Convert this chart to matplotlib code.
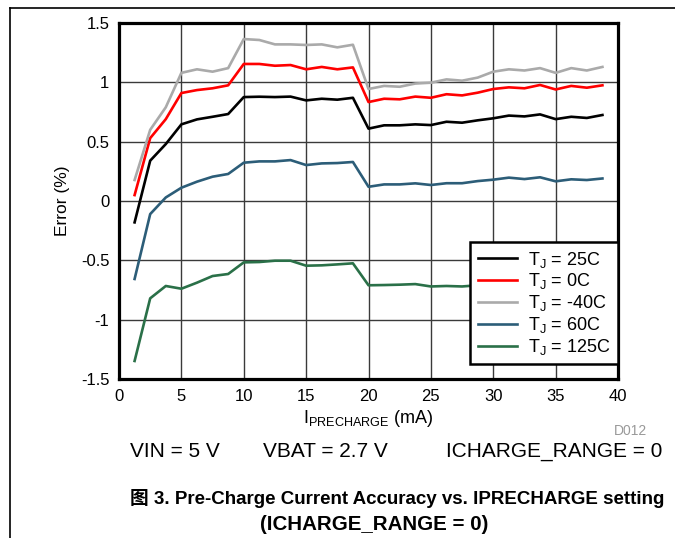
import matplotlib
matplotlib.use('Agg')
import matplotlib.pyplot as plt
from matplotlib.lines import Line2D

plt.rcParams['font.family'] = ['Liberation Sans', 'Noto Sans CJK SC', 'DejaVu Sans']
plt.rcParams['mathtext.fontset'] = 'custom'
plt.rcParams['mathtext.rm'] = 'Liberation Sans'

# precharge current setpoints (mA)
i_pre = [1.25, 2.5, 3.75, 5, 6.25, 7.5, 8.75, 10, 11.25, 12.5, 13.75, 15, 16.25, 17.5, 18.75,
         20, 21.25, 22.5, 23.75, 25, 26.25, 27.5, 28.75, 30, 31.25, 32.5, 33.75, 35, 36.25, 37.5, 38.75]

err_25 = [-0.18, 0.34, 0.48, 0.646, 0.688, 0.71, 0.733, 0.876, 0.879, 0.876, 0.88, 0.848, 0.862, 0.854, 0.87,
          0.61, 0.638, 0.638, 0.646, 0.64, 0.668, 0.66, 0.68, 0.697, 0.72, 0.713, 0.73, 0.69, 0.71, 0.70, 0.725]
err_0 = [0.05, 0.53, 0.69, 0.91, 0.935, 0.95, 0.975, 1.155, 1.155, 1.14, 1.146, 1.11, 1.13, 1.11, 1.126,
         0.834, 0.862, 0.857, 0.88, 0.87, 0.90, 0.89, 0.913, 0.944, 0.958, 0.95, 0.978, 0.94, 0.97, 0.955, 0.975]
err_m40 = [0.177, 0.60, 0.79, 1.08, 1.11, 1.09, 1.12, 1.365, 1.357, 1.32, 1.32, 1.315, 1.32, 1.295, 1.317,
           0.944, 0.97, 0.963, 0.99, 0.997, 1.025, 1.014, 1.04, 1.09, 1.11, 1.10, 1.12, 1.08, 1.12, 1.10, 1.13]
err_60 = [-0.657, -0.11, 0.03, 0.112, 0.163, 0.205, 0.228, 0.323, 0.334, 0.334, 0.345, 0.303, 0.317, 0.32, 0.329,
          0.12, 0.14, 0.14, 0.149, 0.135, 0.15, 0.15, 0.168, 0.18, 0.197, 0.185, 0.2, 0.166, 0.183, 0.177, 0.19]
err_125 = [-1.348, -0.82, -0.716, -0.739, -0.688, -0.632, -0.615, -0.517, -0.514, -0.503, -0.503, -0.545, -0.542, -0.534, -0.525,
           -0.71, -0.708, -0.705, -0.70, -0.72, -0.716, -0.72, -0.71, -0.70, -0.69, -0.70, -0.69, -0.71, -0.70, -0.70, -0.69]

series = [
    (err_25, 'black', r'T$_\mathregular{J}$ = 25C'),
    (err_0, '#ff0000', r'T$_\mathregular{J}$ = 0C'),
    (err_m40, '#aaaaaa', r'T$_\mathregular{J}$ = -40C'),
    (err_60, '#2c5d78', r'T$_\mathregular{J}$ = 60C'),
    (err_125, '#2a7048', r'T$_\mathregular{J}$ = 125C'),
]

fig = plt.figure(figsize=(6.75, 5.38), dpi=100)
ax = fig.add_axes([0.1763, 0.2955, 0.7393, 0.6617])

for vals, col, lab in series:
    ax.plot(i_pre, vals, color=col, lw=1.9, label=lab)

ax.set_xlim(0, 40)
ax.set_ylim(-1.5, 1.5)
ax.set_xticks(range(0, 41, 5))
ax.set_yticks([-1.5, -1, -0.5, 0, 0.5, 1, 1.5])
ax.set_yticklabels(['-1.5', '-1', '-0.5', '0', '0.5', '1', '1.5'])
ax.grid(True, color='#3a3a3a', lw=1.0)
ax.set_axisbelow(True)
ax.tick_params(length=0, labelsize=12, pad=7)
for s in ax.spines.values():
    s.set_linewidth(2.3)
ax.set_ylabel('Error (%)', fontsize=12.5, labelpad=8)
ax.set_xlabel(r'I$_\mathregular{PRECHARGE}$ (mA)', fontsize=13, labelpad=3)

leg = ax.legend(loc='lower right', bbox_to_anchor=(1.0, 0.042), fontsize=13, frameon=True,
                fancybox=False, edgecolor='black', framealpha=1, borderaxespad=0,
                handlelength=2.2, labelspacing=0.1, borderpad=0.4, handletextpad=0.6)
leg.get_frame().set_linewidth(1.8)

fig.text(0.958, 0.199, 'D012', fontsize=10, color='#999999', ha='right', va='center')
fig.text(0.193, 0.16, 'VIN = 5 V', fontsize=15, va='center')
fig.text(0.39, 0.16, 'VBAT = 2.7 V', fontsize=15, va='center')
fig.text(0.66, 0.16, 'ICHARGE_RANGE = 0', fontsize=15, va='center')
fig.text(0.193, 0.073, '图 3. Pre-Charge Current Accuracy vs. IPRECHARGE setting',
         fontsize=13.5, fontweight='bold', va='center')
fig.text(0.555, 0.025, '(ICHARGE_RANGE = 0)', fontsize=14.8, fontweight='bold',
         ha='center', va='center')

# page frame lines from the datasheet
fig.add_artist(Line2D([0.015, 1.0], [0.985, 0.985], color='black', lw=1.2))
fig.add_artist(Line2D([0.015, 0.015], [0.0, 0.985], color='black', lw=1.2))

fig.savefig('out.png', dpi=100)
